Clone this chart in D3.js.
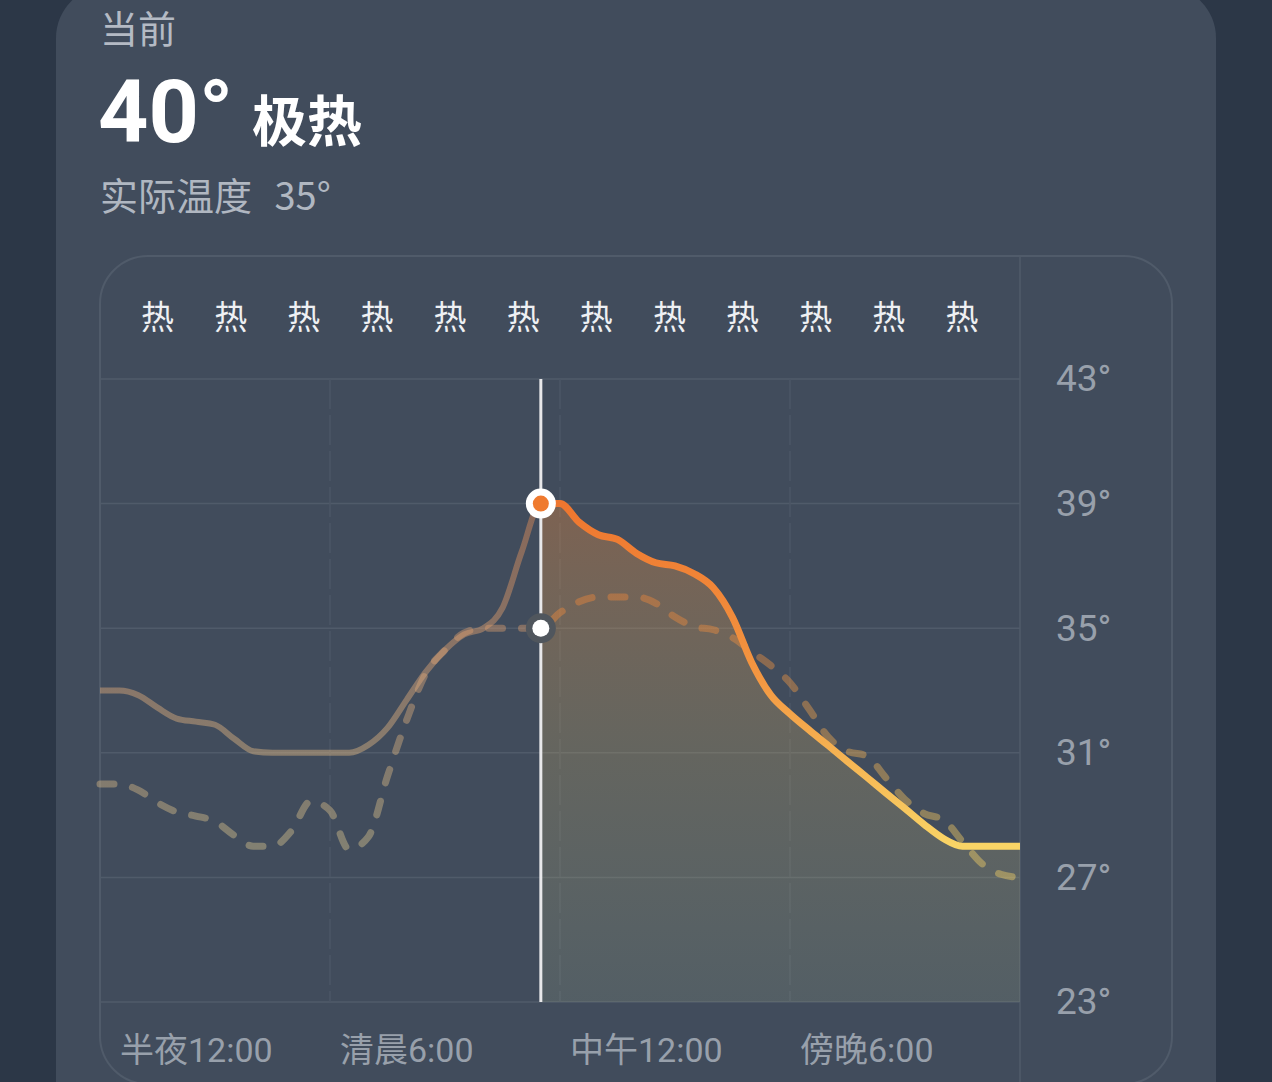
<!DOCTYPE html>
<html>
<head>
<meta charset="utf-8">
<script src="https://cdn.jsdelivr.net/npm/d3@7/dist/d3.min.js"></script>
<style>
body { margin: 0; background: #2c3747; }
svg { display: block; }
</style>
</head>
<body>
<svg id="chart" width="1272" height="1082"></svg>
<script>
// Hourly card: feels-like temperature (solid) vs actual temperature (dashed)
var hours = [0, 0.5, 1, 1.5, 2, 2.5, 3, 3.5, 4, 4.5, 5, 5.5, 6, 6.5, 7, 7.5, 8, 8.5, 9, 9.5,
	10, 10.5, 11, 11.5, 12, 12.5, 13, 13.5, 14, 14.5, 15, 15.5, 16, 16.5, 17, 17.5, 18, 18.5,
	19, 19.5, 20, 20.5, 21, 21.5, 22, 22.5, 23, 23.5, 24];

var feelsLike = [33.0, 33.0, 32.85, 32.45, 32.1, 32.0, 31.9, 31.45, 31.05, 31.0, 31.0, 31.0, 31.0,
	31.0, 31.25, 31.8, 32.7, 33.6, 34.3, 34.8, 35.0, 35.65, 37.45, 39.0, 39.0, 38.4, 38.0, 37.85,
	37.4, 37.1, 37.0, 36.75, 36.3, 35.35, 33.9, 32.85, 32.25, 31.73, 31.23, 30.72, 30.22, 29.71, 29.21,
	28.7, 28.25, 28.0, 28.0, 28.0, 28.0];

var actualTemp = [30.0, 30.0, 29.8, 29.4, 29.1, 28.97, 28.8, 28.35, 28.0, 28.0, 28.5, 29.45, 29.15,
	27.9, 28.3, 30.25, 32.05, 33.55, 34.3, 34.85, 35.0, 35.0, 35.0, 35.0, 35.5, 35.85, 36.0, 36.0,
	36.0, 35.8, 35.36, 35.05, 34.95, 34.7, 34.25, 33.8, 33.25, 32.4, 31.5, 31.05, 30.9, 30.2, 29.5,
	29.05, 28.85, 28.15, 27.45, 27.1, 27.0];

var nowHour = 11.5;
var nowFeels = 39;
var nowActual = 35;

var yTicks = [23, 27, 31, 35, 39, 43];
var timeTicks = [0, 6, 12, 18];
var timeLabels = ['半夜12:00', '清晨6:00', '中午12:00', '傍晚6:00'];
var comfortLabels = ['热', '热', '热', '热', '热', '热', '热', '热', '热', '热', '热', '热'];

var titleText = '当前';
var bigTemp = '40°';
var levelText = '极热';
var actualText = '实际温度 35°';

var svg = d3.select('#chart');

var x = d3.scaleLinear().domain([0, 24]).range([100, 1020]);
var y = d3.scaleLinear().domain([23, 43]).range([1002, 379]);

var numFont = "Roboto, 'Noto Sans CJK SC', sans-serif";
var cjkFont = "'Noto Sans CJK SC', sans-serif";

var defs = svg.append('defs');

// line colour goes orange (hot) -> yellow (cooler)
var lineGrad = defs.append('linearGradient')
	.attr('id', 'lineGrad')
	.attr('gradientUnits', 'userSpaceOnUse')
	.attr('x1', 0).attr('x2', 0)
	.attr('y1', y(39)).attr('y2', y(28));
lineGrad.append('stop').attr('offset', 0).attr('stop-color', '#ee762f');
lineGrad.append('stop').attr('offset', 0.5).attr('stop-color', '#f39641');
lineGrad.append('stop').attr('offset', 1).attr('stop-color', '#f9d466');

// muted version for the hours already gone
var pastGrad = defs.append('linearGradient')
	.attr('id', 'pastGrad')
	.attr('gradientUnits', 'userSpaceOnUse')
	.attr('x1', 0).attr('x2', 0)
	.attr('y1', y(39)).attr('y2', y(28));
pastGrad.append('stop').attr('offset', 0).attr('stop-color', '#e08a55');
pastGrad.append('stop').attr('offset', 0.5).attr('stop-color', '#e0a878');
pastGrad.append('stop').attr('offset', 1).attr('stop-color', '#dcc890');

var areaGrad = defs.append('linearGradient')
	.attr('id', 'areaGrad')
	.attr('gradientUnits', 'userSpaceOnUse')
	.attr('x1', 0).attr('x2', 0)
	.attr('y1', y(39)).attr('y2', y(23));
areaGrad.append('stop').attr('offset', 0).attr('stop-color', '#e88a40').attr('stop-opacity', 0.36);
areaGrad.append('stop').attr('offset', 0.5).attr('stop-color', '#d4b468').attr('stop-opacity', 0.24);
areaGrad.append('stop').attr('offset', 1).attr('stop-color', '#c4d09a').attr('stop-opacity', 0.14);

defs.append('clipPath').attr('id', 'past')
	.append('rect')
	.attr('x', 0).attr('y', 0)
	.attr('width', x(nowHour)).attr('height', 1082);

defs.append('clipPath').attr('id', 'future')
	.append('rect')
	.attr('x', x(nowHour)).attr('y', 0)
	.attr('width', 1272 - x(nowHour)).attr('height', 1082);

// card + inner panel
svg.append('rect')
	.attr('x', 56).attr('y', -14)
	.attr('width', 1160).attr('height', 1200)
	.attr('rx', 52).attr('ry', 52)
	.style('fill', '#414c5c');

svg.append('rect')
	.attr('x', 100).attr('y', 256)
	.attr('width', 1072).attr('height', 828)
	.attr('rx', 48).attr('ry', 48)
	.style('fill', '#414c5c')
	.style('stroke', '#505b6a')
	.style('stroke-width', 2);

// header texts
svg.append('text')
	.attr('x', 100).attr('y', 43)
	.text(titleText)
	.style('font-family', cjkFont)
	.style('font-size', '38px')
	.style('fill', '#b4bac4');

svg.append('text')
	.attr('x', 98).attr('y', 142)
	.text(bigTemp)
	.style('font-family', numFont)
	.style('font-weight', 'bold')
	.style('font-size', '88px')
	.style('fill', '#ffffff');

svg.append('text')
	.attr('x', 252).attr('y', 141)
	.text(levelText)
	.style('font-family', cjkFont)
	.style('font-weight', 'bold')
	.style('font-size', '55px')
	.style('fill', '#ffffff');

svg.append('text')
	.attr('x', 100).attr('y', 210)
	.text(actualText)
	.style('font-family', cjkFont)
	.style('font-size', '38px')
	.style('word-spacing', '14px')
	.style('fill', '#b0b7c1');

// comfort row
var cx = d3.scalePoint().domain(d3.range(comfortLabels.length)).range([157.5, 962]);
svg.append('g').selectAll('text')
	.data(comfortLabels)
	.enter()
	.append('text')
	.attr('x', function (d, i) { return cx(i); })
	.attr('y', 329)
	.attr('text-anchor', 'middle')
	.text(function (d) { return d; })
	.style('font-family', cjkFont)
	.style('font-size', '33px')
	.style('fill', '#eef0f3');

// separator of the y label column
svg.append('line')
	.attr('x1', 1020).attr('x2', 1020)
	.attr('y1', 256).attr('y2', 1084)
	.style('stroke', '#505b6a')
	.style('stroke-width', 1.5);

// grid
svg.append('g').selectAll('line')
	.data(yTicks)
	.enter()
	.append('line')
	.attr('x1', 100).attr('x2', 1020)
	.attr('y1', function (d) { return y(d); })
	.attr('y2', function (d) { return y(d); })
	.style('stroke', '#505b6a')
	.style('stroke-width', 1.5);

svg.append('g').selectAll('line')
	.data(timeTicks.slice(1))
	.enter()
	.append('line')
	.attr('x1', function (d) { return x(d); })
	.attr('x2', function (d) { return x(d); })
	.attr('y1', y(43)).attr('y2', y(23))
	.style('stroke', '#4b5665')
	.style('stroke-width', 1.5)
	.style('stroke-dasharray', '30,6');

// y labels
var yAxis = svg.append('g')
	.attr('transform', 'translate(1056,0)')
	.call(d3.axisRight(y).tickValues(yTicks).tickSize(0).tickPadding(0)
		.tickFormat(function (d) { return d + '°'; }));
yAxis.select('.domain').remove();
yAxis.selectAll('text')
	.style('font-family', numFont)
	.style('font-size', '37px')
	.style('fill', '#98a0ab');

// x labels
svg.append('g').selectAll('text')
	.data(timeTicks)
	.enter()
	.append('text')
	.attr('x', function (d, i) { return x(d) + (i === 0 ? 20 : 10); })
	.attr('y', 1062)
	.text(function (d, i) { return timeLabels[i]; })
	.style('font-family', numFont)
	.style('font-size', '34px')
	.style('fill', '#98a0ab');

// series
var feelsData = hours.map(function (h, i) { return [h, feelsLike[i]]; });
var actualData = hours.map(function (h, i) { return [h, actualTemp[i]]; });

var line = d3.line()
	.x(function (d) { return x(d[0]); })
	.y(function (d) { return y(d[1]); })
	.curve(d3.curveMonotoneX);

var area = d3.area()
	.x(function (d) { return x(d[0]); })
	.y0(y(23))
	.y1(function (d) { return y(d[1]); })
	.curve(d3.curveMonotoneX);

svg.append('path')
	.datum(feelsData)
	.attr('d', area)
	.attr('clip-path', 'url(#future)')
	.style('fill', 'url(#areaGrad)');

['past', 'future'].forEach(function (part) {
	svg.append('path')
		.datum(actualData)
		.attr('d', line)
		.attr('clip-path', 'url(#' + part + ')')
		.style('fill', 'none')
		.style('stroke', part === 'past' ? 'url(#pastGrad)' : 'url(#lineGrad)')
		.style('stroke-width', 7)
		.style('stroke-linecap', 'round')
		.style('stroke-dasharray', '14,19')
		.style('stroke-opacity', 0.42);

	svg.append('path')
		.datum(feelsData)
		.attr('d', line)
		.attr('clip-path', 'url(#' + part + ')')
		.style('fill', 'none')
		.style('stroke', part === 'past' ? 'url(#pastGrad)' : 'url(#lineGrad)')
		.style('stroke-width', part === 'past' ? 6 : 7)
		.style('stroke-linejoin', 'round')
		.style('stroke-opacity', part === 'past' ? 0.45 : 1);
});

// now marker
svg.append('line')
	.attr('x1', x(nowHour)).attr('x2', x(nowHour))
	.attr('y1', y(43)).attr('y2', y(23))
	.style('stroke', '#e8e8ea')
	.style('stroke-width', 3);

svg.append('circle')
	.attr('cx', x(nowHour)).attr('cy', y(nowActual)).attr('r', 15)
	.style('fill', '#50565d');
svg.append('circle')
	.attr('cx', x(nowHour)).attr('cy', y(nowActual)).attr('r', 8.5)
	.style('fill', '#ffffff');

svg.append('circle')
	.attr('cx', x(nowHour)).attr('cy', y(nowFeels)).attr('r', 15)
	.style('fill', '#ffffff');
svg.append('circle')
	.attr('cx', x(nowHour)).attr('cy', y(nowFeels)).attr('r', 8)
	.style('fill', '#ef7a2f');
</script>
</body>
</html>
